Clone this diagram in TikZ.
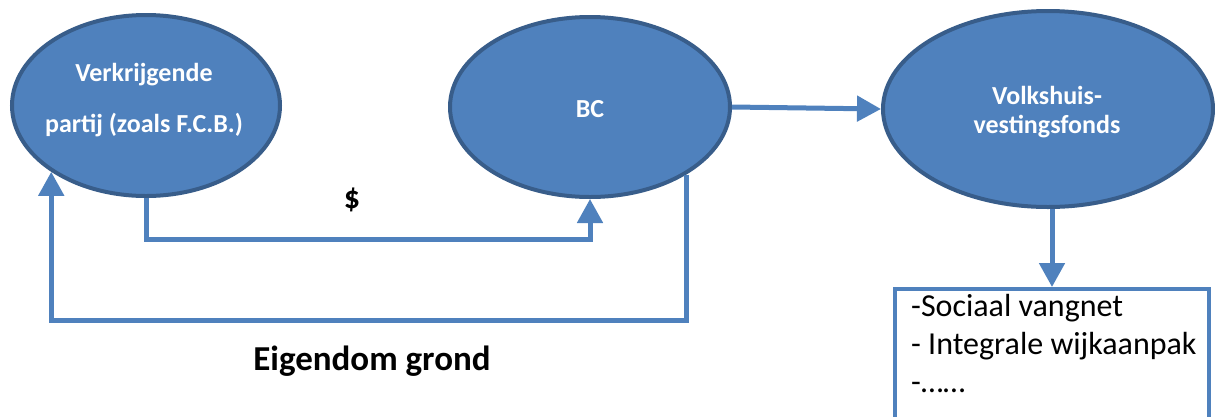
\documentclass[tikz,border=0pt]{standalone}
\usepackage{fontspec}
\setmainfont{Carlito}
\usetikzlibrary{shapes.geometric,arrows.meta}
\definecolor{ofill}{HTML}{4F81BD}
\definecolor{oline}{HTML}{385D8A}
\begin{document}
\begin{tikzpicture}[x=1pt,y=-1pt,
  oval/.style={ellipse, fill=ofill, draw=oline, line width=4pt, inner sep=0pt},
  etext/.style={text=white, font=\fontsize{26}{26}\selectfont\bfseries, align=center},
  conn/.style={draw=ofill, line width=5pt, -{Triangle[width=25pt,length=24pt]}},
  box/.style={draw=ofill, line width=4pt, fill=white, anchor=north west, minimum width=314pt, minimum height=160pt, inner sep=0pt}]
\useasboundingbox (0,0) rectangle (1215,416);
\node[oval, minimum width=268pt, minimum height=181pt] (vk) at (146,105.5) {};
\node[oval, minimum width=280pt, minimum height=180pt] (bc) at (590,107) {};
\node[oval, minimum width=330pt, minimum height=196pt] (vf) at (1048,109) {};
\node[etext] (vkt1) at (144,75) {Verkrijgende};
\node[etext] (vkt2) at (144,125) {partij (zoals F.C.B.)};
\node[etext] (bct) at (590,109) {BC};
\node[etext] (vft1) at (1047,95) {Volkshuis-};
\node[etext] (vft2) at (1047,127) {vestingsfonds};
\node[box] (bx) at (893,287) {};
\node[anchor=north west, align=left, font=\fontsize{32}{38}\selectfont, inner sep=0pt] (bxt) at (911,294) {-Sociaal vangnet\\- Integrale wijkaanpak\\-……};
\node[font=\fontsize{32}{32}\selectfont\bfseries] (dollar) at (352,200) {\$};
\node[font=\fontsize{35}{35}\selectfont\bfseries] (eig) at (372,361) {Eigendom grond};
% connectors
\draw[conn] (bc.east) -- (vf.west);
\coordinate (vfb) at (bx.north |- vf.south);
\draw[conn] (vfb) -- (bx.north);
\draw[conn] (vk.south) -- ++(0,41) -| (bc.south);
\coordinate (lowL) at (vk.-145 |- 0,320);
\draw[conn] (bc.-35) |- (lowL) -- (vk.-145);
\end{tikzpicture}
\end{document}
